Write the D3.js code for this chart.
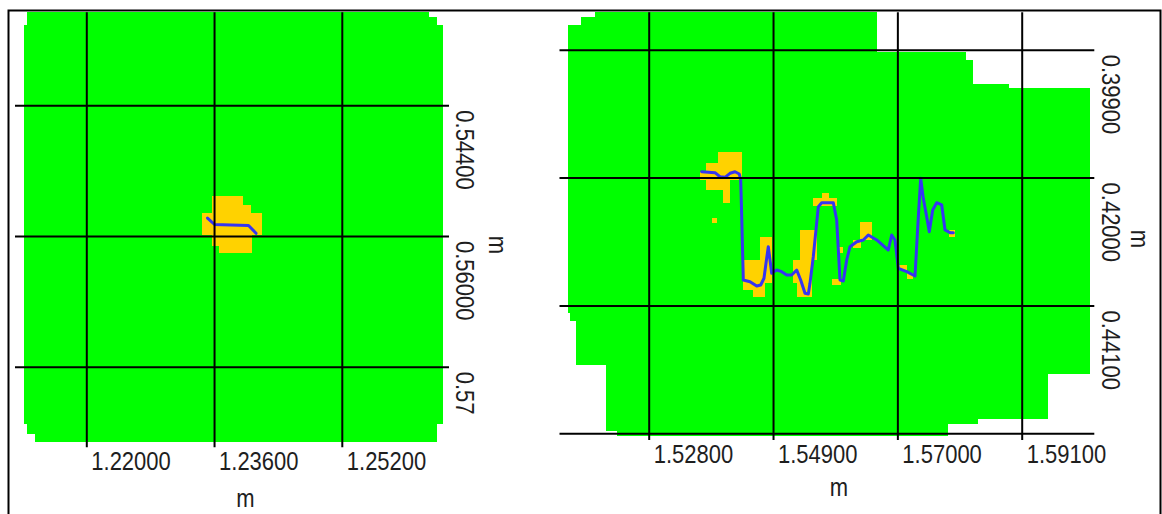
<!DOCTYPE html>
<html><head><meta charset="utf-8">
<script src="https://cdn.jsdelivr.net/npm/d3@7"></script>
<style>
html,body{margin:0;padding:0;background:#fff;}
svg{display:block;}
text{font-family:"Liberation Sans",Arial,sans-serif;font-size:25px;fill:#1e1e1e;}
</style></head><body>
<svg id="c" width="1162" height="514"></svg>
<script>
// ---------------- DATA ----------------
// Left panel
const leftXTicks = [1.220, 1.236, 1.252];
const leftXLabels = ["1.22000", "1.23600", "1.25200"];
const leftYTicks = [0.544, 0.560, 0.576];
const leftYLabels = ["0.54400", "0.56000", "0.57"];
const leftFootprint = [
  [1.21261,0.53262],[1.26292,0.53262],[1.26292,0.53319],[1.26389,0.53319],[1.26389,0.53417],
  [1.26471,0.53417],[1.26471,0.58305],[1.26389,0.58305],[1.26389,0.58518],[1.21357,0.58518],
  [1.21357,0.58427],[1.21261,0.58427],[1.21261,0.58305],[1.21220,0.58305],[1.21220,0.53417],
  [1.21261,0.53417]
];
const leftAnomaly = [
  [1.23578,0.55507],[1.23966,0.55507],[1.23966,0.55620],[1.24059,0.55620],[1.24059,0.55722],
  [1.24197,0.55722],[1.24197,0.55988],[1.24072,0.55988],[1.24072,0.56212],[1.23666,0.56212],
  [1.23666,0.56122],[1.23578,0.56122],[1.23578,0.55988],[1.23453,0.55988],[1.23453,0.55722],
  [1.23578,0.55722]
];
const leftTrack = [
  [1.23518,0.55780],[1.23606,0.55859],[1.23812,0.55865],[1.24032,0.55871],[1.24126,0.55967]
];

// Right panel
const rightXTicks = [1.528, 1.549, 1.570, 1.591];
const rightXLabels = ["1.52800", "1.54900", "1.57000", "1.59100"];
const rightYTicks = [0.399, 0.420, 0.441, 0.462];
const rightYLabels = ["0.39900", "0.42000", "0.44100", ""];
const rightFootprint = [
  [1.51893,0.39286],[1.56661,0.39286],[1.56661,0.39943],[1.58159,0.39943],[1.58159,0.40069],
  [1.58272,0.40069],[1.58272,0.40468],[1.58886,0.40468],[1.58886,0.40534],[1.60262,0.40534],
  [1.60262,0.45226],[1.59549,0.45226],[1.59549,0.45970],[1.58367,0.45970],[1.58367,0.46047],
  [1.57860,0.46047],[1.57860,0.46239],[1.52270,0.46239],[1.52270,0.46157],[1.52074,0.46157],
  [1.52074,0.45078],[1.51567,0.45078],[1.51567,0.44351],[1.51471,0.44351],[1.51471,0.44229],
  [1.51429,0.44229],[1.51429,0.39494],[1.51657,0.39494],[1.51657,0.39363],[1.51893,0.39363]
];
// anomaly cells: [x0, x1, y0, y1]
const rightAnomalyCells = [
  [1.53970,1.54376,0.41575,0.41766],
  [1.53768,1.54376,0.41766,0.41904],
  [1.53666,1.54376,0.41904,0.42040],
  [1.53768,1.54173,0.42040,0.42204],
  [1.54055,1.54173,0.42204,0.42423],
  [1.53869,1.53954,0.42669,0.42741],
  [1.54680,1.54883,0.42971,0.43737],
  [1.54398,1.54714,0.43354,0.43847],
  [1.54567,1.54764,0.43737,0.43957],
  [1.55356,1.55643,0.42861,0.43354],
  [1.55242,1.55558,0.43354,0.43737],
  [1.55300,1.55553,0.43737,0.43957],
  [1.55580,1.55975,0.42336,0.42467],
  [1.55727,1.55845,0.42258,0.42336],
  [1.55888,1.56056,0.43666,0.43764],
  [1.56014,1.56082,0.43140,0.43239],
  [1.56369,1.56572,0.42725,0.43025],
  [1.56251,1.56386,0.43025,0.43157],
  [1.57028,1.57163,0.43436,0.43518],
  [1.57163,1.57264,0.43567,0.43666],
  [1.57872,1.57974,0.42861,0.42976]
];
const rightTrack = [
  [1.53695,0.41904],[1.53920,0.41920],[1.54004,0.41986],[1.54089,0.41996],[1.54173,0.41930],
  [1.54258,0.41904],[1.54330,0.41941],[1.54354,0.42040],[1.54371,0.42643],[1.54398,0.43682],
  [1.54511,0.43710],[1.54624,0.43781],[1.54692,0.43764],[1.54747,0.43654],[1.54781,0.43408],
  [1.54820,0.43135],[1.54849,0.43354],[1.54877,0.43572],[1.54962,0.43518],[1.55046,0.43546],
  [1.55131,0.43600],[1.55215,0.43600],[1.55300,0.43518],[1.55367,0.43682],[1.55440,0.43901],
  [1.55496,0.43912],[1.55524,0.43737],[1.55580,0.43300],[1.55665,0.42478],[1.55722,0.42413],
  [1.55918,0.42413],[1.55975,0.42697],[1.56031,0.43682],[1.56087,0.43699],[1.56144,0.43354],
  [1.56200,0.43135],[1.56313,0.43053],[1.56425,0.43025],[1.56509,0.42943],[1.56651,0.43025],
  [1.56847,0.43190],[1.56904,0.42943],[1.56960,0.43025],[1.57016,0.43490],[1.57158,0.43546],
  [1.57298,0.43617],[1.57354,0.42643],[1.57394,0.42012],[1.57438,0.42341],[1.57495,0.42643],
  [1.57539,0.42889],[1.57597,0.42533],[1.57664,0.42413],[1.57749,0.42450],[1.57805,0.42861],
  [1.57889,0.42905],[1.57945,0.42905]
];

// ---------------- DRAW ----------------
const GREEN = "#00ff00", YELLOW = "#ffd200", BLUE = "#3535f2";
const svg = d3.select("#c");

svg.append("path")
  .attr("d", "M8.5,530V10.5H1160.5V530")
  .attr("fill", "none").attr("stroke", "#000").attr("stroke-width", 2);

function panel(cfg) {
  const g = svg.append("g");
  const x = d3.scaleLinear().domain(d3.extent(cfg.xTicks)).range(cfg.xRange);
  const y = d3.scaleLinear().domain(d3.extent(cfg.yTicks)).range(cfg.yRange);
  const line = d3.line().x(d => x(d[0])).y(d => y(d[1]));

  g.append("path").attr("d", line(cfg.footprint) + "Z")
    .attr("fill", GREEN).attr("shape-rendering", "crispEdges");

  if (cfg.anomaly) {
    g.append("path").attr("d", line(cfg.anomaly) + "Z")
      .attr("fill", YELLOW).attr("shape-rendering", "crispEdges");
  }
  if (cfg.cells) {
    g.selectAll("rect.cell").data(cfg.cells).join("rect").attr("class", "cell")
      .attr("x", d => x(d[0])).attr("width", d => x(d[1]) - x(d[0]))
      .attr("y", d => y(d[2])).attr("height", d => y(d[3]) - y(d[2]))
      .attr("fill", YELLOW).attr("shape-rendering", "crispEdges");
  }

  g.append("path").attr("d", line(cfg.track))
    .attr("fill", "none").attr("stroke", BLUE).attr("stroke-width", 3)
    .attr("stroke-linejoin", "round").attr("stroke-linecap", "round");

  // vertical grid lines + x labels
  const ax = g.append("g").attr("transform", `translate(0,${cfg.vBottom})`)
    .call(d3.axisBottom(x).tickValues(cfg.xTicks)
      .tickSize(-(cfg.vBottom - cfg.vTop)).tickSizeOuter(0)
      .tickFormat((d, i) => cfg.xLabels[i]));
  ax.select(".domain").remove();
  ax.attr("font-size", null).attr("font-family", null).attr("color", "#000");
  ax.selectAll("line").attr("stroke-width", 2);
  ax.selectAll("text").attr("x", null).attr("y", null).attr("dy", null)
    .attr("text-anchor", "start")
    .attr("transform", "translate(4.5,22.5) scale(0.88,1)");

  // horizontal grid lines + y labels (rotated)
  const ay = g.append("g").attr("transform", `translate(${cfg.hRight},0)`)
    .call(d3.axisRight(y).tickValues(cfg.yTicks)
      .tickSize(-(cfg.hRight - cfg.hLeft)).tickSizeOuter(0)
      .tickFormat((d, i) => cfg.yLabels[i]));
  ay.select(".domain").remove();
  ay.attr("font-size", null).attr("font-family", null).attr("color", "#000");
  ay.selectAll("line").attr("stroke-width", 2);
  ay.selectAll("text").attr("x", null).attr("y", null).attr("dy", null)
    .attr("text-anchor", "start")
    .attr("transform", "translate(7.2,4.5) rotate(90) scale(0.88,1)");

  // axis titles
  g.append("text").attr("text-anchor", "middle")
    .attr("transform", `translate(${cfg.xTitle[0]},${cfg.xTitle[1]}) scale(0.88,1)`).text("m");
  g.append("text").attr("text-anchor", "middle")
    .attr("transform", `translate(${cfg.yTitle[0]},${cfg.yTitle[1]}) rotate(90) scale(0.88,1)`).text("m");
}

panel({
  xTicks: leftXTicks, xLabels: leftXLabels, yTicks: leftYTicks, yLabels: leftYLabels,
  xRange: [86.3, 341.8], yRange: [105.3, 366.7],
  vTop: 12.3, vBottom: 447.3, hLeft: 15, hRight: 449,
  footprint: leftFootprint, anomaly: leftAnomaly, track: leftTrack,
  xTitle: [245.3, 506.5], yTitle: [489, 245]
});

panel({
  xTicks: rightXTicks, xLabels: rightXLabels, yTicks: rightYTicks, yLabels: rightYLabels,
  xRange: [648.7, 1021.7], yRange: [49.7, 433.3],
  vTop: 12.3, vBottom: 440, hLeft: 559.5, hRight: 1094.3,
  footprint: rightFootprint, cells: rightAnomalyCells, track: rightTrack,
  xTitle: [839, 496], yTitle: [1131, 239]
});
</script>
</body></html>
